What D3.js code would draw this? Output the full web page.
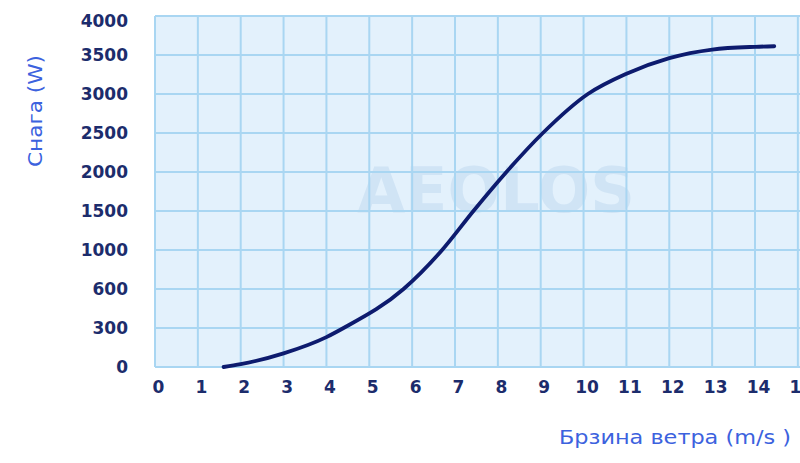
<!DOCTYPE html>
<html>
<head>
<meta charset="utf-8">
<script src="https://cdn.jsdelivr.net/npm/d3@7"></script>
<style>
html,body{margin:0;padding:0;background:#fff;}
svg{display:block;}
</style>
</head>
<body>
<svg id="chart" width="800" height="463"></svg>
<script>
// ---- data ----
const windSpeed = [1.6, 2, 3, 4, 4.4, 5.8, 6.7, 7.43, 8.2, 9.05, 10.1, 11, 12, 13, 14, 14.45];
const power     = [0, 22, 105, 230, 300, 600, 1000, 1500, 2000, 2500, 3000, 3260, 3460, 3570, 3605, 3612];
const xTicks = [0,1,2,3,4,5,6,7,8,9,10,11,12,13,14,15];
const yTicks = [0,300,600,1000,1500,2000,2500,3000,3500,4000];
const xTitle = "Брзина ветра (m/s )";
const yTitle = "Снага (W)";
const watermark = "AEOLOS";

// ---- layout ----
const svg = d3.select("#chart");
const pLeft = 155, pTop = 16, pBottom = 367, pRight = 800;
const x = d3.scaleLinear().domain([0, 14]).range([pLeft, pLeft + 600]);
const y = d3.scaleLinear()
  .domain(yTicks)
  .range(yTicks.map((d, i) => pBottom - i * (pBottom - pTop) / (yTicks.length - 1)));

// plot background
svg.append("rect")
  .attr("x", pLeft).attr("y", pTop)
  .attr("width", pRight - pLeft).attr("height", pBottom - pTop)
  .attr("fill", "#e3f1fc");

// watermark
svg.append("text")
  .attr("x", 496).attr("y", 212)
  .attr("text-anchor", "middle")
  .attr("font-family", "DejaVu Sans, sans-serif")
  .attr("font-weight", "bold")
  .attr("font-size", 62)
  .attr("fill", "#d0e4f5")
  .text(watermark);

// grid
const grid = svg.append("g");
grid.selectAll("line.v").data(xTicks.filter(d => x(d) <= pRight)).join("line")
  .attr("class", "v")
  .attr("x1", d => x(d)).attr("x2", d => x(d))
  .attr("y1", pTop).attr("y2", pBottom)
  .attr("stroke", "#a9d6f2").attr("stroke-width", 2);
grid.selectAll("line.h").data(yTicks).join("line")
  .attr("class", "h")
  .attr("x1", pLeft).attr("x2", pRight)
  .attr("y1", d => y(d)).attr("y2", d => y(d))
  .attr("stroke", "#a9d6f2").attr("stroke-width", 2);

// axes labels via d3 axes
const tickColor = "#1c2c6c";
const xAxis = svg.append("g")
  .attr("transform", `translate(3,${pBottom})`)
  .call(d3.axisBottom(x).tickValues(xTicks).tickSize(0).tickPadding(14).tickFormat(d => d));
xAxis.select(".domain").remove();
xAxis.selectAll("text")
  .attr("font-family", "DejaVu Sans, Verdana, sans-serif")
  .attr("font-weight", "bold")
  .attr("font-size", 17)
  .attr("fill", tickColor);

const yAxis = svg.append("g")
  .attr("transform", `translate(${pLeft},0)`)
  .call(d3.axisLeft(y).tickValues(yTicks).tickSize(0).tickPadding(27).tickFormat(d => d));
yAxis.select(".domain").remove();
yAxis.selectAll("text")
  .attr("font-family", "DejaVu Sans, Verdana, sans-serif")
  .attr("font-weight", "bold")
  .attr("font-size", 17)
  .attr("fill", tickColor)
  .attr("dy", d => d === 4000 ? "0.6em" : "0.35em");

// curve
const line = d3.line()
  .x((d, i) => x(windSpeed[i]))
  .y((d, i) => y(power[i]))
  .curve(d3.curveMonotoneX);
svg.append("path")
  .datum(power)
  .attr("d", line)
  .attr("fill", "none")
  .attr("stroke", "#0d1b6e")
  .attr("stroke-width", 3.8)
  .attr("stroke-linecap", "round");

// titles
svg.append("text")
  .attr("transform", "translate(42,111) rotate(-90)")
  .attr("text-anchor", "middle")
  .attr("font-family", "DejaVu Sans, sans-serif")
  .attr("font-size", 19)
  .attr("textLength", 112)
  .attr("lengthAdjust", "spacingAndGlyphs")
  .attr("fill", "#3c62de")
  .text(yTitle);
svg.append("text")
  .attr("x", 791).attr("y", 444)
  .attr("text-anchor", "end")
  .attr("font-family", "DejaVu Sans, sans-serif")
  .attr("font-size", 19)
  .attr("textLength", 232)
  .attr("lengthAdjust", "spacingAndGlyphs")
  .attr("fill", "#3c62de")
  .text(xTitle);
</script>
</body>
</html>
